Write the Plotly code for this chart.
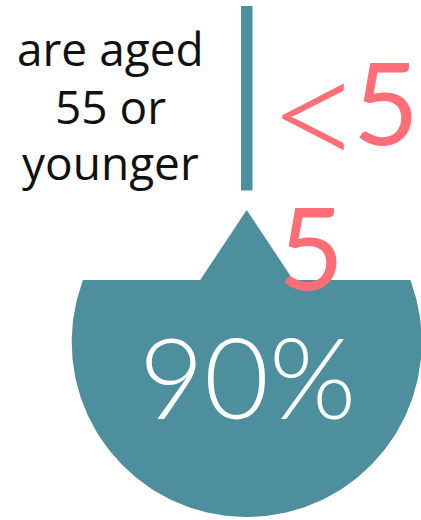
import numpy as np
import plotly.graph_objects as go

# ---- content ----
label_lines = ["are aged", "55 or", "younger"]
share_text = "90%"
count_prefix = "<"
count_lines = ["5", "5"]

TEAL = "#4E8F9E"
SALMON = "#FF6E76"
W, H = 421, 520

# ---- geometry (pixel space, y downward) ----
cx, cy, r = 246.7, 342.0, 175.0
chord_y = 280.0
apex_y = 210.0
tri_half = 46.5

dy = chord_y - cy
t0 = np.arcsin(dy / r)           # right chord end (negative angle)
t1 = np.pi - t0                  # left chord end
ts = np.linspace(t0, t1, 240)
arc_x = cx + r * np.cos(ts)
arc_y = cy + r * np.sin(ts)

xs = [cx - tri_half, cx, cx + tri_half] + list(arc_x) + [cx - tri_half]
ys = [chord_y, apex_y, chord_y] + list(arc_y) + [chord_y]

fig = go.Figure()
fig.add_trace(go.Scatter(x=xs, y=ys, mode="lines", fill="toself",
                         fillcolor=TEAL, line=dict(width=0, color=TEAL),
                         hoverinfo="skip", showlegend=False))

# vertical divider bar
bar_x0, bar_x1, bar_y0, bar_y1 = 241.0, 252.5, 6.0, 190.5
fig.add_shape(type="rect", x0=bar_x0, x1=bar_x1, y0=bar_y0, y1=bar_y1,
              xref="x", yref="y", fillcolor=TEAL, line=dict(width=0), layer="below")

LABEL_FONT = "'Open Sans', sans-serif"
BIG_FONT = "Lato, sans-serif"
label_y = [48, 106, 162]
for txt, yy in zip(label_lines, label_y):
    fig.add_annotation(x=110, y=yy, xref="x", yref="y", text=txt, showarrow=False,
                       xanchor="center", yanchor="middle",
                       font=dict(family=LABEL_FONT, size=46, color="#111111"))

# "<" glyph
fig.add_annotation(x=315.5, y=108, xref="x", yref="y", text=count_prefix, showarrow=False,
                   xanchor="center", yanchor="middle",
                   font=dict(family=BIG_FONT, size=164, color=SALMON, weight=300))
fig.add_annotation(x=421, y=100, xref="x", yref="y", text=count_lines[0], showarrow=False,
                   xanchor="right", yanchor="middle",
                   font=dict(family=BIG_FONT, size=114, color=SALMON, weight=400))
fig.add_annotation(x=311, y=245, xref="x", yref="y", text=count_lines[1], showarrow=False,
                   xanchor="center", yanchor="middle",
                   font=dict(family=BIG_FONT, size=114, color=SALMON, weight=400))

fig.add_annotation(x=247, y=375, xref="x", yref="y", text=share_text, showarrow=False,
                   xanchor="center", yanchor="middle",
                   font=dict(family=BIG_FONT, size=112, color="white", weight=300))

fig.update_xaxes(range=[0, W], visible=False, fixedrange=True)
fig.update_yaxes(range=[H, 0], visible=False, fixedrange=True)
fig.update_layout(width=W, height=H, margin=dict(l=0, r=0, t=0, b=0),
                  paper_bgcolor="white", plot_bgcolor="white", showlegend=False)

fig.write_html("out.html", config={"displayModeBar": False})
